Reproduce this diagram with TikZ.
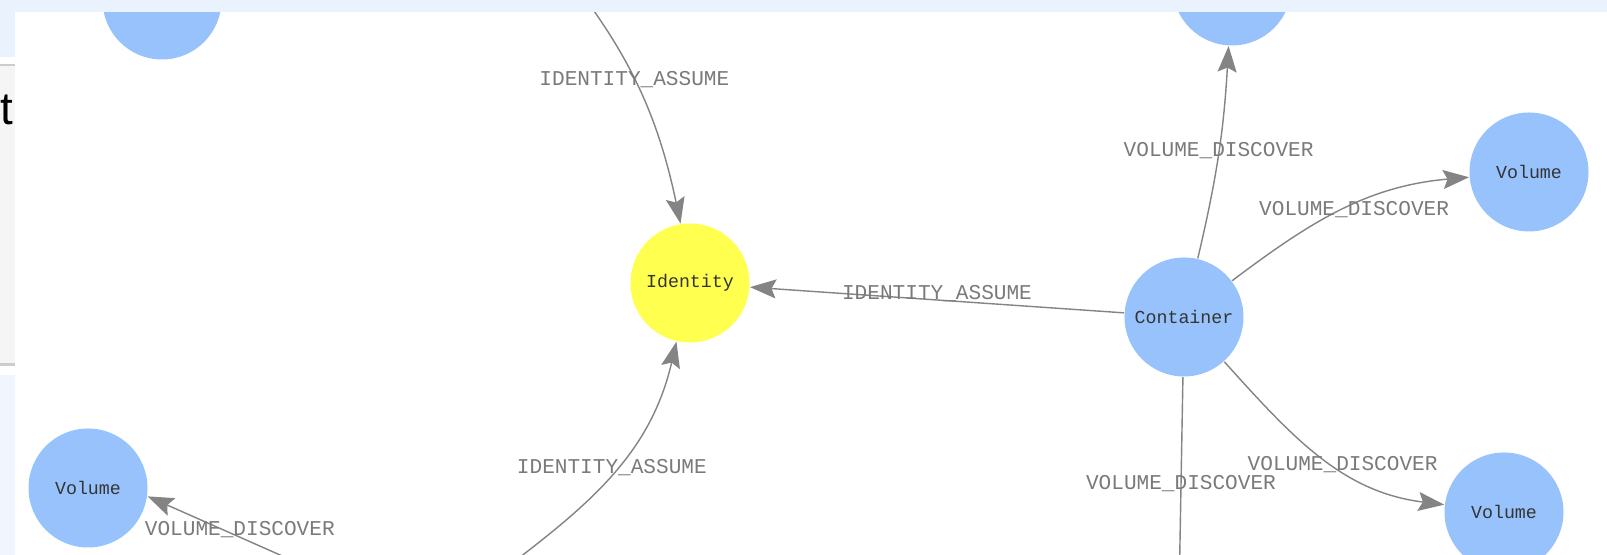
\documentclass[tikz,border=0pt]{standalone}
\usepackage{fontspec}
\usepackage{xcolor}
\usepackage{tikz}
\usetikzlibrary{arrows.meta}
\newfontfamily\visfont{Liberation Mono}
\newfontfamily\uifont{Liberation Sans}
\definecolor{VisBlue}{HTML}{97C2FC}
\definecolor{VisYellow}{HTML}{FFFF4F}
\definecolor{VisEdge}{HTML}{848484}
\definecolor{VisLabel}{HTML}{7A7A7A}
\definecolor{VisText}{HTML}{343434}
\definecolor{VisBand}{HTML}{EAF2FD}
\definecolor{VisStrip}{HTML}{F1F6FE}
\definecolor{VisPanel}{HTML}{F5F5F5}
\definecolor{VisRule}{HTML}{CCCCCC}

\begin{document}
\begin{tikzpicture}[x=1cm,y=1cm,
  ent/.style={circle,fill=VisBlue,minimum size=1.19cm,inner sep=0pt,text=VisText,font=\visfont\fontsize{5.2}{6}\selectfont},
  rel/.style={draw=VisEdge,line width=0.4pt,-{Stealth[length=0.26cm,width=0.19cm,inset=0.045cm]}},
  lbl/.style={text=VisLabel,inner sep=0pt,font=\visfont\fontsize{6}{7}\selectfont}]
\path[use as bounding box] (0,0) rectangle (16.07,5.55);
\fill[white] (0,0) rectangle (16.07,5.55);
\begin{scope}
\clip (0.15,0) rectangle (16.07,5.43);
\node[ent] (volTL) at (1.62,5.55) {};
\node[ent,fill=VisYellow] (identity) at (6.90,2.72) {Identity};
\node[ent] (volTop) at (12.32,5.69) {};
\node[ent] (volRight) at (15.29,3.83) {Volume};
\node[ent] (container) at (11.84,2.38) {Container};
\node[ent] (volBR) at (15.04,0.43) {Volume};
\node[ent] (volBL) at (0.88,0.67) {Volume};
\coordinate (srcIdTop) at (5.50,6.01);
\coordinate (srcIdBot) at (4.55,-0.52);
\coordinate (dstBelow) at (11.79,-0.43);
\coordinate (srcVolBL) at (3.32,-0.23);
\draw[rel] (srcIdTop) to[bend left=14] node[lbl] (lblIdTop) {IDENTITY\_ASSUME} (identity);
\draw[rel] (container) -- node[lbl,yshift=0.06cm] (lblIdMid) {IDENTITY\_ASSUME} (identity);
\draw[rel] (srcIdBot) to[out=38,in=-103] node[lbl,pos=0.58,yshift=0.05cm] (lblIdBot) {IDENTITY\_ASSUME} (identity);
\draw[rel] (container) to[bend right=5] node[lbl,yshift=0.02cm] (lblVolTop) {VOLUME\_DISCOVER} (volTop);
\draw[rel] (container) to[out=37,in=185] node[lbl,pos=0.55,yshift=-0.05cm] (lblVolRight) {VOLUME\_DISCOVER} (volRight);
\draw[rel] (container) to[out=-48,in=173] node[lbl,pos=0.6,yshift=0.06cm] (lblVolBR) {VOLUME\_DISCOVER} (volBR);
\draw[rel] (container) -- node[lbl,yshift=0.04cm] (lblVolDown) {VOLUME\_DISCOVER} (dstBelow);
\draw[rel] (srcVolBL) -- node[lbl,yshift=0.08cm] (lblVolBL) {VOLUME\_DISCOVER} (volBL.-8);
\end{scope}
\fill[VisBand] (0,5.43) rectangle (16.07,5.55);
\fill[VisBand] (0,4.98) rectangle (0.15,5.55);
\fill[VisRule] (0,4.89) rectangle (0.15,4.91);
\fill[VisPanel] (0,1.92) rectangle (0.15,4.89);
\fill[VisRule] (0,1.89) rectangle (0.15,1.92);
\fill[VisStrip] (0,0) rectangle (0.15,1.80);
\begin{scope}
\clip (0,0) rectangle (0.15,5.55);
\node[anchor=base west,inner sep=0pt,font=\uifont\fontsize{13}{15}\selectfont] (uiT) at (0.00,4.30) {t};
\end{scope}
\end{tikzpicture}
\end{document}
